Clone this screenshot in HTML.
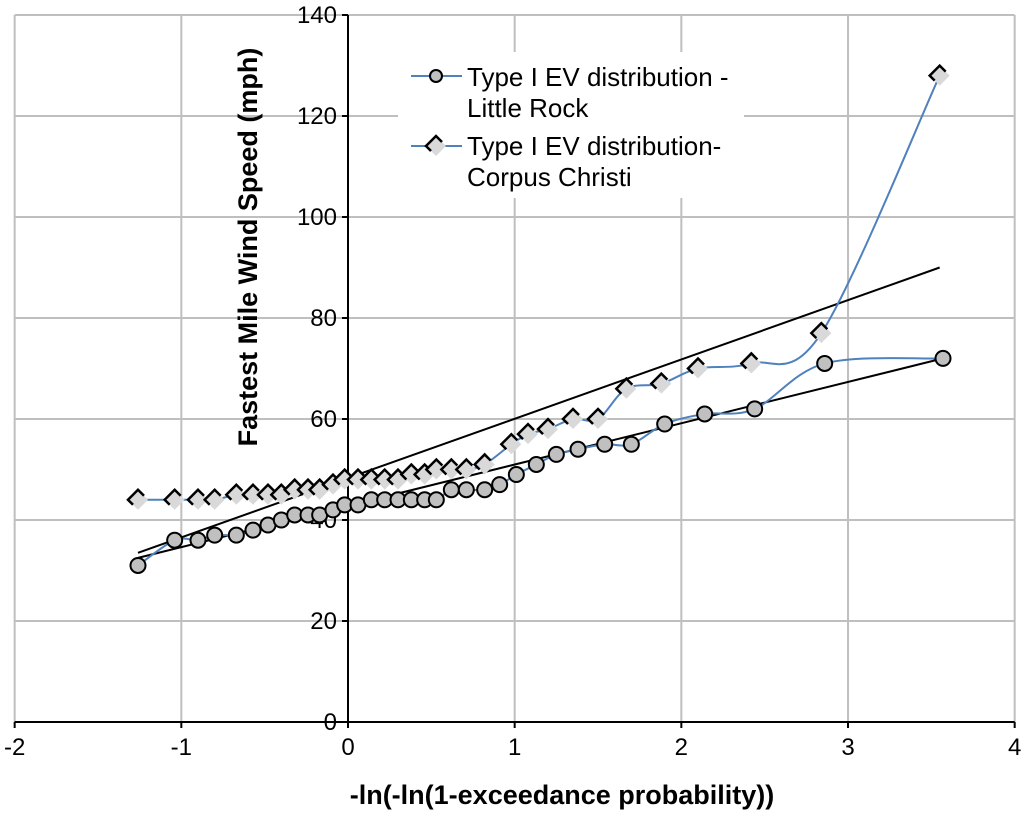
<!DOCTYPE html>
<html><head><meta charset="utf-8"><style>
body{margin:0;background:#fff}
svg text{font-family:"Liberation Sans",sans-serif}
</style></head><body>
<svg id="c" width="1024" height="818" viewBox="0 0 1024 818"></svg>
<script>
const xVals=[-1.26,-1.04,-0.90,-0.80,-0.67,-0.57,-0.48,-0.40,-0.32,-0.24,-0.17,-0.09,-0.02,0.06,0.14,0.22,0.30,0.38,0.46,0.53,0.62,0.71,0.82,0.91,1.01,1.13,1.25,1.38,1.54,1.70,1.90,2.14,2.44,2.86,3.57];
const littleRock=[31,36,36,37,37,38,39,40,41,41,41,42,43,43,44,44,44,44,44,44,46,46,46,47,49,51,53,54,55,55,59,61,62,71,72];
const ccX=[-1.26,-1.04,-0.90,-0.80,-0.67,-0.57,-0.48,-0.40,-0.32,-0.24,-0.17,-0.09,-0.02,0.06,0.14,0.22,0.30,0.38,0.46,0.53,0.62,0.71,0.82,0.98,1.08,1.20,1.35,1.50,1.67,1.88,2.10,2.42,2.84,3.55];
const corpus=[44,44,44,44,45,45,45,45,46,46,46,47,48,48,48,48,48,49,49,50,50,50,51,55,57,58,60,60,66,67,70,71,77,128];
const trendLR=[[-1.26,32.5],[3.57,72]];
const trendCC=[[-1.26,33.5],[3.55,90]];
const xTicks=[-2,-1,0,1,2,3,4];
const yTicks=[0,20,40,60,80,100,120,140];

const NS="http://www.w3.org/2000/svg";
const svg=document.getElementById('c');
const X=v=>348+v*166.67, Y=v=>722-v*5.05;
function mk(t,a,p){const e=document.createElementNS(NS,t);for(const k in a)e.setAttribute(k,a[k]);(p||svg).appendChild(e);return e;}

xTicks.forEach(t=>{if(t===0)return;
 const g=mk('line',{x1:X(t),x2:X(t),y1:Y(140),y2:Y(0),stroke:'#bfbfbf','stroke-width':2});
 
 });
yTicks.forEach(t=>{if(t===0)return;
 const g=mk('line',{x1:X(-2),x2:X(4),y1:Y(t),y2:Y(t),stroke:'#bfbfbf','stroke-width':2});
 
 });

const lb=mk('rect',{x:398,y:52,width:346,height:146,fill:'#fff'});



const xa=mk('line',{x1:X(-2),x2:X(4),y1:Y(0),y2:Y(0),stroke:'#000','stroke-width':2});


const ya=mk('line',{x1:X(0),x2:X(0),y1:Y(140),y2:Y(0),stroke:'#000','stroke-width':2});


xTicks.forEach(t=>{
 mk('line',{x1:X(t),x2:X(t),y1:722,y2:728,stroke:'#000','stroke-width':2});
 const l=mk('text',{x:X(t),y:755,'text-anchor':'middle','font-size':24,fill:'#000'});
 l.textContent=t;
 
 });
yTicks.forEach(t=>{
 mk('line',{x1:342,x2:348,y1:Y(t),y2:Y(t),stroke:'#000','stroke-width':2});
 const l=mk('text',{x:337,y:Y(t)+8,'text-anchor':'end','font-size':24,fill:'#000'});
 l.textContent=t;
 
 });

[trendLR,trendCC].forEach((tr,i)=>{
 const l=mk('line',{x1:X(tr[0][0]),y1:Y(tr[0][1]),x2:X(tr[1][0]),y2:Y(tr[1][1]),stroke:'#000','stroke-width':2});
 
 });

function smooth(xs,ys){
 const p=xs.map((x,i)=>[X(x),Y(ys[i])]);
 let d='M'+p[0][0]+','+p[0][1];
 for(let i=0;i<p.length-1;i++){
  const p0=p[i-1]||p[i],p1=p[i],p2=p[i+1],p3=p[i+2]||p2,k=1/6;
  d+=' C'+(p1[0]+(p2[0]-p0[0])*k)+','+(p1[1]+(p2[1]-p0[1])*k)+' '+(p2[0]-(p3[0]-p1[0])*k)+','+(p2[1]-(p3[1]-p1[1])*k)+' '+p2[0]+','+p2[1];}
 return d;}
const s1=mk('path',{d:smooth(xVals,littleRock),fill:'none',stroke:'#4f81bd','stroke-width':2});


const s2=mk('path',{d:smooth(ccX,corpus),fill:'none',stroke:'#4f81bd','stroke-width':2});



function diamond(cx,cy){
 const g=mk('g',{});
 mk('polygon',{points:`${cx},${cy-10} ${cx+10},${cy} ${cx},${cy+10} ${cx-10},${cy}`,fill:'#d9d9d9'},g);
 mk('polyline',{points:`${cx-5},${cy+5} ${cx-10},${cy} ${cx},${cy-10} ${cx+6},${cy-4}`,fill:'none',stroke:'#000','stroke-width':2.5},g);
 return g;}
ccX.forEach((x,i)=>{const g=diamond(X(x),Y(corpus[i]));
 
 });
xVals.forEach((x,i)=>{const c=mk('circle',{cx:X(x),cy:Y(littleRock[i]),r:7.5,fill:'#c0c0c0',stroke:'#000','stroke-width':2});
 
 });

const lg1=mk('g',{});


mk('line',{x1:411,x2:462,y1:76,y2:76,stroke:'#4f81bd','stroke-width':2},lg1);
mk('circle',{cx:436,cy:76,r:6,fill:'#c0c0c0',stroke:'#000','stroke-width':2},lg1);
let t=mk('text',{x:467,y:86,'font-size':26},lg1);t.textContent='Type I  EV distribution -';
t=mk('text',{x:467,y:117,'font-size':26},lg1);t.textContent='Little Rock';
const lg2=mk('g',{});


mk('line',{x1:411,x2:462,y1:146,y2:146,stroke:'#4f81bd','stroke-width':2},lg2);
lg2.appendChild(diamond(436,146));
t=mk('text',{x:467,y:155,'font-size':26},lg2);t.textContent='Type I  EV distribution-';
t=mk('text',{x:467,y:186,'font-size':26},lg2);t.textContent='Corpus Christi';

const yt=mk('text',{x:0,y:0,transform:'translate(257,247) rotate(-90)','text-anchor':'middle','font-size':27,'font-weight':'bold'});
yt.textContent='Fastest Mile Wind Speed (mph)';


const xt=mk('text',{x:562,y:804,'text-anchor':'middle','font-size':27,'font-weight':'bold'});
xt.textContent='-ln(-ln(1-exceedance probability))';


</script>
</body></html>
